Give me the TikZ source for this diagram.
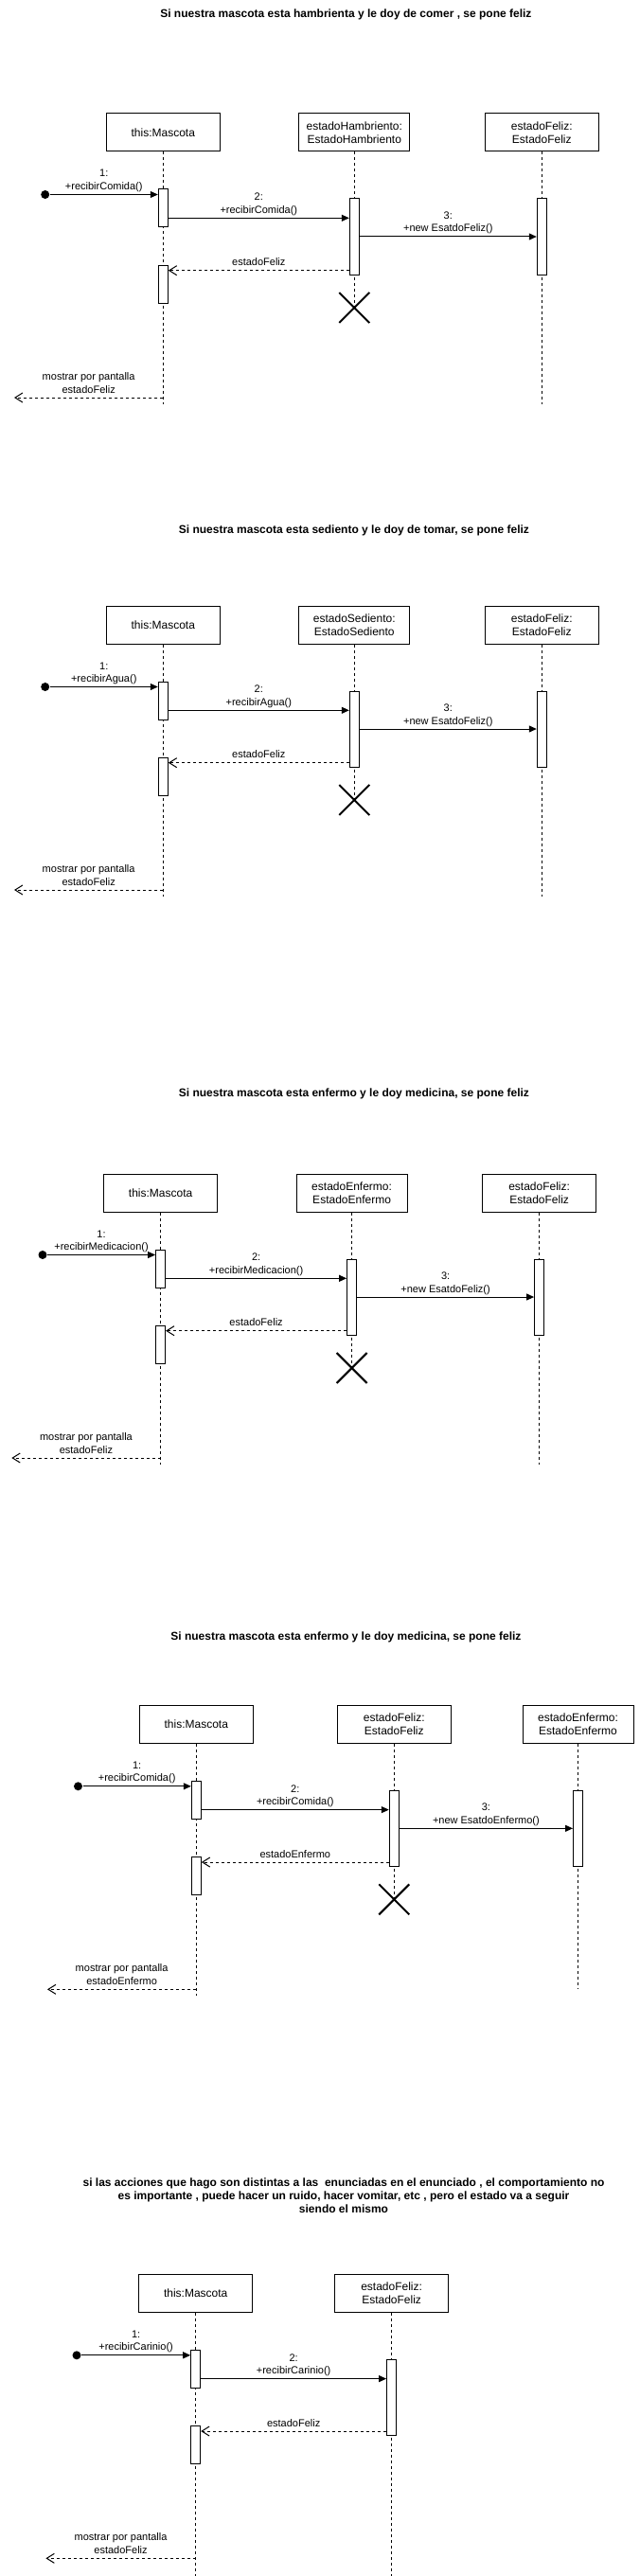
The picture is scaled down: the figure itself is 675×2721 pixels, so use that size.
\documentclass[tikz,border=0pt]{standalone}
\usepackage{fontspec}
\setmainfont{Liberation Sans}
\usetikzlibrary{arrows.meta,shapes.misc}
\tikzset{
	titulo/.style={font=\bfseries\fontsize{12}{14}\selectfont, align=center, inner sep=0pt},
	objeto/.style={draw, minimum width=120pt, minimum height=40pt, align=center, inner sep=0pt, font=\fontsize{12}{14.4}\selectfont},
	activ/.style={draw, fill=white, minimum width=10pt, inner sep=0pt},
	vida/.style={dash pattern=on 3pt off 3pt},
	msg/.style={-{Triangle[length=8pt,width=7pt]}},
	resp/.style={dash pattern=on 3pt off 3pt, -{Straight Barb[length=8pt,width=10pt]}},
	etiq/.style={font=\fontsize{11}{13.5}\selectfont, align=center, inner sep=0pt, text depth=2.5pt},
	inicio/.style={circle, fill, minimum size=9pt, inner sep=0pt},
	cruz/.style={draw, cross out, minimum size=30pt, inner sep=0pt, line width=2pt}
}

\begin{document}
\begin{tikzpicture}[x=1pt, y=-1pt, line width=1pt]
		%%%%% START %%%%%
		\useasboundingbox (0,0) rectangle (675,2721);
		
		%%% hambriento
		\node[titulo] (t1) at (365.4,15) {Si nuestra mascota esta hambrienta y le doy de comer , se pone feliz};
		\node[objeto] (mas1) at (172.3,140) {this:Mascota};
		\node[objeto, minimum width=117pt] (vie1) at (374.3,140) {estadoHambriento:\\EstadoHambriento};
		\node[objeto] (nue1) at (572.3,140) {estadoFeliz:\\EstadoFeliz};
		\node[cruz] (x1) at (374.3,325) {};
		\coordinate (mas1fin) at (172.3,427);
		\coordinate (nue1fin) at (572.3,427);
		\draw[vida] (mas1) -- (mas1fin);
		\draw[vida] (vie1) -- (x1.center);
		\draw[vida] (nue1) -- (nue1fin);
		\node[activ, minimum height=40pt] (a1) at (172.3,220) {};
		\node[activ, minimum height=80pt] (b1) at (374.3,250) {};
		\node[activ, minimum height=80pt] (c1) at (572.3,250) {};
		\node[activ, minimum height=40pt] (d1) at (172.3,300) {};
		\node[inicio] (s1) at (47.7,205.5) {};
		\coordinate (o1) at (15,420);
		\draw[msg] (s1) -- (s1 -| a1.west) node[etiq, midway, above=2pt] {1:\\+recibirComida()};
		\draw[msg] ([yshift=-10.3pt]a1.east) -- ([yshift=19.7pt]b1.west) node[etiq, midway, above=2pt] {2:\\+recibirComida()};
		\draw[msg] (b1.east) -- (c1.west) node[etiq, midway, above=2pt] {3:\\+new EsatdoFeliz()};
		\draw[resp] ([yshift=-35.7pt]b1.west) -- ([yshift=14.3pt]d1.east) node[etiq, midway, above=2pt] {estadoFeliz};
		\draw[resp] (o1 -| mas1) -- (o1) node[etiq, midway, above=2pt] {mostrar por pantalla\\estadoFeliz};
		
		%%% sediento
		\node[titulo] (t2) at (373.9,560) {Si nuestra mascota esta sediento y le doy de tomar, se pone feliz};
		\node[objeto] (mas2) at (172.3,660) {this:Mascota};
		\node[objeto, minimum width=117pt] (vie2) at (374.3,660) {estadoSediento:\\EstadoSediento};
		\node[objeto] (nue2) at (572.3,660) {estadoFeliz:\\EstadoFeliz};
		\node[cruz] (x2) at (374.3,845) {};
		\coordinate (mas2fin) at (172.3,947);
		\coordinate (nue2fin) at (572.3,947);
		\draw[vida] (mas2) -- (mas2fin);
		\draw[vida] (vie2) -- (x2.center);
		\draw[vida] (nue2) -- (nue2fin);
		\node[activ, minimum height=40pt] (a2) at (172.3,740) {};
		\node[activ, minimum height=80pt] (b2) at (374.3,770) {};
		\node[activ, minimum height=80pt] (c2) at (572.3,770) {};
		\node[activ, minimum height=40pt] (d2) at (172.3,820) {};
		\node[inicio] (s2) at (47.7,725.5) {};
		\coordinate (o2) at (15,940);
		\draw[msg] (s2) -- (s2 -| a2.west) node[etiq, midway, above=2pt] {1:\\+recibirAgua()};
		\draw[msg] ([yshift=-10.3pt]a2.east) -- ([yshift=19.7pt]b2.west) node[etiq, midway, above=2pt] {2:\\+recibirAgua()};
		\draw[msg] (b2.east) -- (c2.west) node[etiq, midway, above=2pt] {3:\\+new EsatdoFeliz()};
		\draw[resp] ([yshift=-35.7pt]b2.west) -- ([yshift=14.3pt]d2.east) node[etiq, midway, above=2pt] {estadoFeliz};
		\draw[resp] (o2 -| mas2) -- (o2) node[etiq, midway, above=2pt] {mostrar por pantalla\\estadoFeliz};
		
		%%% enfermo
		\node[titulo] (t3) at (373.9,1155) {Si nuestra mascota esta enfermo y le doy medicina, se pone feliz};
		\node[objeto] (mas3) at (169.6,1260) {this:Mascota};
		\node[objeto, minimum width=117pt] (vie3) at (371.6,1260) {estadoEnfermo:\\EstadoEnfermo};
		\node[objeto] (nue3) at (569.6,1260) {estadoFeliz:\\EstadoFeliz};
		\node[cruz] (x3) at (371.6,1445) {};
		\coordinate (mas3fin) at (169.6,1547);
		\coordinate (nue3fin) at (569.6,1547);
		\draw[vida] (mas3) -- (mas3fin);
		\draw[vida] (vie3) -- (x3.center);
		\draw[vida] (nue3) -- (nue3fin);
		\node[activ, minimum height=40pt] (a3) at (169.6,1340) {};
		\node[activ, minimum height=80pt] (b3) at (371.6,1370) {};
		\node[activ, minimum height=80pt] (c3) at (569.6,1370) {};
		\node[activ, minimum height=40pt] (d3) at (169.6,1420) {};
		\node[inicio] (s3) at (45,1325.5) {};
		\coordinate (o3) at (12.3,1540);
		\draw[msg] (s3) -- (s3 -| a3.west) node[etiq, midway, above=2pt] {1:\\+recibirMedicacion()};
		\draw[msg] ([yshift=-10.3pt]a3.east) -- ([yshift=19.7pt]b3.west) node[etiq, midway, above=2pt] {2:\\+recibirMedicacion()};
		\draw[msg] (b3.east) -- (c3.west) node[etiq, midway, above=2pt] {3:\\+new EsatdoFeliz()};
		\draw[resp] ([yshift=-35.7pt]b3.west) -- ([yshift=14.3pt]d3.east) node[etiq, midway, above=2pt] {estadoFeliz};
		\draw[resp] (o3 -| mas3) -- (o3) node[etiq, midway, above=2pt] {mostrar por pantalla\\estadoFeliz};
		
		%%% feliz -> enfermo
		\node[titulo] (t4) at (365.4,1729) {Si nuestra mascota esta enfermo y le doy medicina, se pone feliz};
		\node[objeto] (mas4) at (207.3,1821.3) {this:Mascota};
		\node[objeto] (vie4) at (416.3,1821.3) {estadoFeliz:\\EstadoFeliz};
		\node[objeto, minimum width=117pt] (nue4) at (610.5,1821.3) {estadoEnfermo:\\EstadoEnfermo};
		\node[cruz] (x4) at (416.3,2006.3) {};
		\coordinate (mas4fin) at (207.3,2108.3);
		\coordinate (nue4fin) at (610.5,2100);
		\draw[vida] (mas4) -- (mas4fin);
		\draw[vida] (vie4) -- (x4.center);
		\draw[vida] (nue4) -- (nue4fin);
		\node[activ, minimum height=40pt] (a4) at (207.3,1901.3) {};
		\node[activ, minimum height=80pt] (b4) at (416.3,1931.3) {};
		\node[activ, minimum height=80pt] (c4) at (610.5,1931.3) {};
		\node[activ, minimum height=40pt] (d4) at (207.3,1981.3) {};
		\node[inicio] (s4) at (82.5,1886.8) {};
		\coordinate (o4) at (50,2101.3);
		\draw[msg] (s4) -- (s4 -| a4.west) node[etiq, midway, above=2pt] {1:\\+recibirComida()};
		\draw[msg] ([yshift=-10.3pt]a4.east) -- ([yshift=19.7pt]b4.west) node[etiq, midway, above=2pt] {2:\\+recibirComida()};
		\draw[msg] (b4.east) -- (c4.west) node[etiq, midway, above=2pt] {3:\\+new EsatdoEnfermo()};
		\draw[resp] ([yshift=-35.7pt]b4.west) -- ([yshift=14.3pt]d4.east) node[etiq, midway, above=2pt] {estadoEnfermo};
		\draw[resp] (o4 -| mas4) -- (o4) node[etiq, midway, above=2pt] {mostrar por pantalla\\estadoEnfermo};
		
		%%% otras acciones
		\node[titulo] (t5) at (363,2319.3) {si las acciones que hago son distintas a las\ \ enunciadas en el enunciado , el comportamiento no\\es importante , puede hacer un ruido, hacer vomitar, etc , pero el estado va a seguir\\siendo el mismo};
		\node[objeto] (mas5) at (206.7,2422.3) {this:Mascota};
		\node[objeto] (vie5) at (413.6,2422.3) {estadoFeliz:\\EstadoFeliz};
		\coordinate (mas5fin) at (206.7,2721);
		\coordinate (vie5fin) at (413.6,2721);
		\draw[vida] (mas5) -- (mas5fin);
		\draw[vida] (vie5) -- (vie5fin);
		\node[activ, minimum height=40pt] (a5) at (206.7,2502.3) {};
		\node[activ, minimum height=80pt] (b5) at (413.6,2532.3) {};
		\node[activ, minimum height=40pt] (d5) at (206.7,2582.3) {};
		\node[inicio] (s5) at (81,2487.8) {};
		\coordinate (o5) at (48.4,2702.3);
		\draw[msg] (s5) -- (s5 -| a5.west) node[etiq, midway, above=2pt] {1:\\+recibirCarinio()};
		\draw[msg] ([yshift=-10.3pt]a5.east) -- ([yshift=19.7pt]b5.west) node[etiq, midway, above=2pt] {2:\\+recibirCarinio()};
		\draw[resp] ([yshift=-35.7pt]b5.west) -- ([yshift=14.3pt]d5.east) node[etiq, midway, above=2pt] {estadoFeliz};
		\draw[resp] (o5 -| mas5) -- (o5) node[etiq, midway, above=2pt] {mostrar por pantalla\\estadoFeliz};
		%%%%% END %%%%%
	\end{tikzpicture}
\end{document}
